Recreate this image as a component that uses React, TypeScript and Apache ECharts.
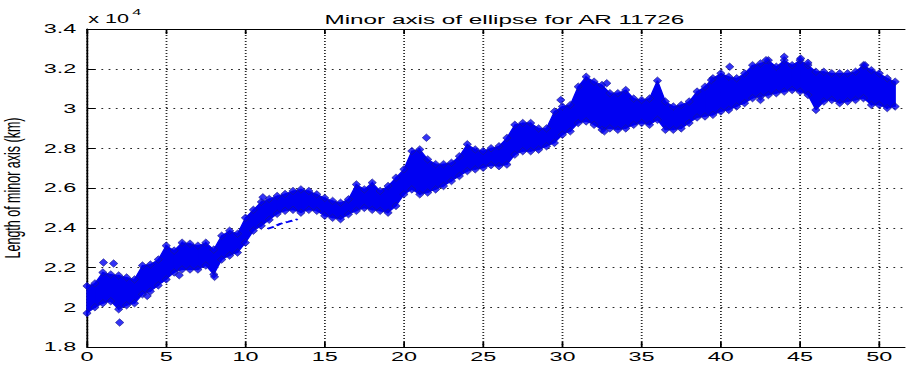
import React, { useEffect, useRef } from "react";
import * as echarts from "echarts";

// Time since start (hours), sampled every half hour
const hours = [
  0, 0.5, 1, 1.5, 2, 2.5, 3, 3.5, 4, 4.5, 5, 5.5, 6, 6.5, 7, 7.5, 8, 8.5, 9, 9.5,
  10, 10.5, 11, 11.5, 12, 12.5, 13, 13.5, 14, 14.5, 15, 15.5, 16, 16.5, 17, 17.5, 18, 18.5, 19, 19.5,
  20, 20.5, 21, 21.5, 22, 22.5, 23, 23.5, 24, 24.5, 25, 25.5, 26, 26.5, 27, 27.5, 28, 28.5, 29, 29.5,
  30, 30.5, 31, 31.5, 32, 32.5, 33, 33.5, 34, 34.5, 35, 35.5, 36, 36.5, 37, 37.5, 38, 38.5, 39, 39.5,
  40, 40.5, 41, 41.5, 42, 42.5, 43, 43.5, 44, 44.5, 45, 45.5, 46, 46.5, 47, 47.5, 48, 48.5, 49, 49.5,
  50, 50.5, 51,
];

// Lowest measured minor axis (km) in each half hour
const minorLow = [
  19700, 20000, 20200, 20300, 19900, 20100, 20200, 20650, 20800, 21100,
  21400, 21750, 21900, 21900, 21900, 22100, 21650, 22400, 22600, 22750,
  23250, 23850, 24100, 24400, 24700, 24850, 24900, 24760, 24900, 24850,
  24600, 24500, 24430, 24680, 24850, 25000, 24900, 24850, 24760, 25100,
  25680, 25930, 25680, 25770, 25930, 26100, 26350, 26600, 26850, 26940,
  27020, 27150, 27100, 27180, 27680, 27850, 27850, 27930, 28100, 28270,
  28680, 28850, 29270, 29350, 29180, 28930, 29000, 28930, 29000, 29180,
  29270, 29180, 29430, 28930, 28930, 29000, 29270, 29550, 29600, 29680,
  29850, 29930, 30100, 30270, 30520, 30600, 30680, 30770, 30850, 30930,
  30850, 30680, 29930, 30350, 30430, 30270, 30350, 30430, 30520, 30180,
  30180, 30020, 30100,
];

// Highest measured minor axis (km) in each half hour
const minorHigh = [
  21070, 21200, 21750, 21650, 21600, 21500, 21400, 22100, 22150, 22400,
  23100, 22850, 23250, 23200, 23100, 23250, 22900, 23600, 23850, 23700,
  24500, 24900, 25300, 25450, 25600, 25700, 25850, 25930, 25850, 25680,
  25500, 25350, 25260, 25430, 26180, 25930, 26270, 25850, 26100, 26520,
  26940, 27860, 27940, 27440, 27200, 27200, 27270, 27600, 28200, 27940,
  27860, 28000, 28100, 28520, 29180, 29270, 29270, 29000, 29000, 29850,
  30100, 30180, 31100, 31600, 31350, 31180, 30770, 30770, 30930, 30500,
  30430, 30500, 31400, 30350, 30100, 30180, 30350, 30850, 31100, 31520,
  31770, 31600, 31520, 31770, 32180, 32270, 32430, 32100, 32430, 32180,
  32430, 32180, 31850, 31850, 31770, 31770, 31770, 31850, 32180, 31930,
  31770, 31520, 31350,
];

// Isolated measurements away from the main cloud [hour, km]
const outliers: [number, number][] = [
  [1.04, 22250], [1.68, 22200], [2.06, 19230], [3.8, 20570], [5.82, 21610],
  [8.05, 21530], [11.1, 25530], [21.42, 28530], [29.9, 30430], [32.65, 28850],
  [32.8, 31270], [39.4, 31430], [40.56, 32100], [42.5, 30430], [42.85, 32430],
  [44.0, 32600], [45.04, 32520], [45.5, 32300], [49.1, 32180],
];

// Short run of low fits just under the main cloud [hour, km]
const lowRun: [number, number][] = [
  [11.4, 23950], [11.8, 24050], [12.2, 24200], [12.7, 24300], [13.3, 24430],
];

const TITLE = "Minor axis of ellipse for AR 11726";
const Y_NAME = "Length of minor axis (km)";

// The figure is drawn narrow and widened with a CSS scaleX, like a stretched plot export
const SX = 1.8;
const W = 906;
const H = 368;
const FONT = "'Liberation Sans', Arial, Helvetica, sans-serif";
const BLUE = "#0000f2";
const EDGE = "#18188f";

export default function App() {
  const ref = useRef<HTMLDivElement>(null);

  useEffect(() => {
    document.body.style.margin = "0";
    document.body.style.overflow = "hidden";
    const el = ref.current!;
    const chart = echarts.init(el, null, { renderer: "svg", width: W / SX, height: H });

    const gridLeft = 87 / SX;
    const gridWidth = (52 * 15.846) / SX;

    const xBase = {
      type: "value" as const,
      min: 0,
      max: 52,
      interval: 5,
    };

    chart.setOption({
      animation: false,
      backgroundColor: "#ffffff",
      title: {
        text: TITLE,
        left: gridLeft + gridWidth / 2 - 2,
        textAlign: "center",
        top: 7,
        textStyle: { fontFamily: FONT, fontSize: 13.5, fontWeight: "normal", color: "#000" },
      },
      graphic: [
        {
          type: "text",
          left: 49,
          top: 13,
          style: { text: "x 10", fontFamily: FONT, fontSize: 12, fill: "#000" },
        },
        {
          type: "text",
          left: 73.5,
          top: 7.5,
          style: { text: "4", fontFamily: FONT, fontSize: 9, fill: "#000" },
        },
      ],
      grid: {
        left: gridLeft,
        top: 29,
        width: gridWidth,
        height: 318,
        outerBoundsMode: "none",
      },
      xAxis: [
        {
          ...xBase,
          position: "bottom",
          axisLine: { show: true, onZero: false, lineStyle: { color: "#000", width: 1 } },
          axisTick: { show: true, inside: true, length: 5, lineStyle: { color: "#000" } },
          axisLabel: {
            margin: 3,
            fontFamily: FONT,
            fontSize: 13,
            color: "#000",
            formatter: (v: number) => (v % 5 === 0 ? String(v) : ""),
          },
          splitLine: { show: true, lineStyle: { color: "#2a2a2a", width: 1, type: [1, 2] } },
        },
        {
          ...xBase,
          position: "top",
          axisLine: { show: true, onZero: false, lineStyle: { color: "#000", width: 1 } },
          axisTick: { show: true, inside: true, length: 5, lineStyle: { color: "#000" } },
          axisLabel: { show: false },
          splitLine: { show: false },
        },
      ],
      yAxis: {
        type: "value",
        min: 18000,
        max: 34000,
        interval: 2000,
        name: Y_NAME,
        nameLocation: "middle",
        nameGap: 32,
        nameRotate: 90,
        nameTextStyle: { fontFamily: FONT, fontSize: 12.5, color: "#000" },
        axisLine: { show: true, onZero: false, lineStyle: { color: "#000", width: 1 } },
        axisTick: { show: true, inside: true, length: 4.4, lineStyle: { color: "#000" } },
        axisLabel: {
          margin: 6,
          fontFamily: FONT,
          fontSize: 13,
          color: "#000",
          formatter: (v: number) => String(Math.round(v / 1000) / 10),
        },
        splitLine: { show: true, lineStyle: { color: "#2a2a2a", width: 1, type: [1, 3] } },
      },
      series: [
        {
          type: "custom",
          name: "spread",
          xAxisIndex: 0,
          z: 2,
          data: hours.map((t, i) => [t, minorLow[i], minorHigh[i]]),
          encode: { x: 0, y: [1, 2] },
          renderItem: (params: any, api: any) => {
            const i = params.dataIndex;
            if (i >= hours.length - 1) return null;
            const pts = [
              api.coord([hours[i], minorLow[i]]),
              api.coord([hours[i], minorHigh[i]]),
              api.coord([hours[i + 1], minorHigh[i + 1]]),
              api.coord([hours[i + 1], minorLow[i + 1]]),
            ];
            return {
              type: "polygon",
              shape: { points: pts },
              style: { fill: BLUE, stroke: BLUE, lineWidth: 0.8 },
            };
          },
        },
        {
          type: "scatter",
          name: "extremes",
          xAxisIndex: 0,
          z: 3,
          symbol: "diamond",
          symbolSize: [4.6, 7.5],
          itemStyle: { color: BLUE, borderColor: EDGE, borderWidth: 0.6 },
          data: [
            ...hours.map((t, i) => [t, minorLow[i]]),
            ...hours.map((t, i) => [t, minorHigh[i]]),
          ],
        },
        {
          type: "scatter",
          name: "outliers",
          xAxisIndex: 0,
          z: 3,
          symbol: "diamond",
          symbolSize: [4.6, 7.5],
          itemStyle: { color: BLUE, borderColor: EDGE, borderWidth: 0.6 },
          data: outliers,
        },
        {
          type: "line",
          name: "low run",
          xAxisIndex: 0,
          z: 3,
          symbol: "none",
          lineStyle: { color: BLUE, width: 1.8, type: [4, 2] },
          data: lowRun,
        },
      ],
    });

    return () => chart.dispose();
  }, []);

  return (
    <div style={{ width: W, height: H, overflow: "hidden", background: "#fff" }}>
      <div
        ref={ref}
        style={{ width: W / SX, height: H, transform: `scaleX(${SX})`, transformOrigin: "0 0" }}
      />
    </div>
  );
}
